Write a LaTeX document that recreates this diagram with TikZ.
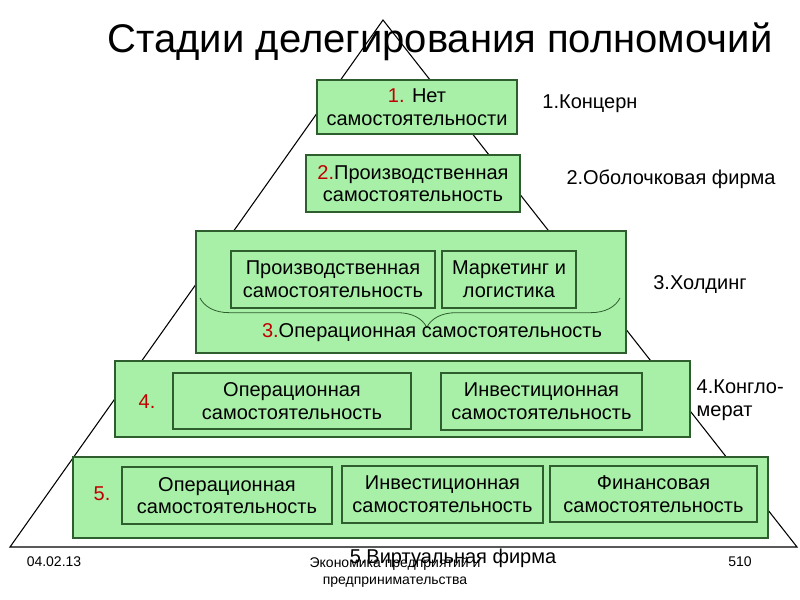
\documentclass[tikz,border=0pt]{standalone}
\usepackage{fontspec}
\setmainfont{Liberation Sans}
\usetikzlibrary{decorations.pathreplacing}
\definecolor{gfill}{HTML}{A8F0A8}
\definecolor{gline}{HTML}{2E5E2E}
\definecolor{rd}{HTML}{C00000}
\tikzset{
 big/.style={draw=gline,fill=gfill,line width=0.8pt},
 inner/.style={draw=gline,line width=0.8pt,align=center,font=\fontsize{15}{17}\selectfont,inner sep=0pt},
 lbl/.style={font=\fontsize{15}{17}\selectfont,align=left},
}
\begin{document}
\begin{tikzpicture}[x=0.75pt,y=-0.75pt]
\useasboundingbox (0,0) rectangle (800,600);
\fill[white] (0,0) rectangle (800,600);
\coordinate (apex) at (383,20);
\coordinate (bl) at (10,547);
\coordinate (br) at (797,547);
\draw[line width=0.8pt] (bl) -- (apex) -- (br) -- cycle;
\node[font=\fontsize{30}{34}\selectfont] (title) at (440,42) {Стадии делегирования полномочий};
% box 1
\node[big,minimum width=150pt,minimum height=40.5pt,inner sep=0pt,align=center,font=\fontsize{15}{17}\selectfont] (b1) at (417,107) {{\color{rd}1.} Нет\\самостоятельности};
\node[big,minimum width=160.5pt,minimum height=42.75pt,inner sep=0pt,align=center,font=\fontsize{15}{17}\selectfont] (b2) at (413,183.5) {{\color{rd}2.}Производственная\\самостоятельность};
% box 3
\node[big,minimum width=322.5pt,minimum height=91.5pt] (b3) at (411,292) {};
\node[inner,minimum width=153pt,minimum height=42.75pt] (b3a) at (333,279.5) {Производственная\\самостоятельность};
\node[inner,minimum width=100.5pt,minimum height=42.75pt] (b3b) at (509,279.5) {Маркетинг и\\логистика};
\coordinate (brL) at (200,298);
\coordinate (brR) at (620,298);
\draw[gline,line width=0.6pt,decorate,decoration={brace,mirror,amplitude=22pt,aspect=0.54}] (brL) -- (brR);
\node[lbl] (b3l) at (432,333) {{\color{rd}3.}Операционная самостоятельность};
% box 4
\node[big,minimum width=431.25pt,minimum height=57pt] (b4) at (402.5,399) {};
\node[lbl,text=rd] (n4) at (147,402) {4.};
\node[inner,minimum width=178.5pt,minimum height=42pt] (b4a) at (292,401) {Операционная\\самостоятельность};
\node[inner,minimum width=150.75pt,minimum height=42.75pt] (b4b) at (541.5,401.5) {Инвестиционная\\самостоятельность};
% box 5
\node[big,minimum width=521.25pt,minimum height=60.75pt] (b5) at (420.5,497.5) {};
\node[lbl,text=rd] (n5) at (102,494) {5.};
\node[inner,minimum width=157.5pt,minimum height=42.75pt] (b5a) at (227,495.5) {Операционная\\самостоятельность};
\node[inner,minimum width=150.75pt,minimum height=42.75pt] (b5b) at (442.5,494.5) {Инвестиционная\\самостоятельность};
\node[inner,minimum width=155.25pt,minimum height=42pt] (b5c) at (653.5,494) {Финансовая\\самостоятельность};
% right labels
\node[lbl] (r1) at (590,104) {1.Концерн};
\node[lbl] (r2) at (671,179) {2.Оболочковая фирма};
\node[lbl] (r3) at (700,285) {3.Холдинг};
\node[lbl,anchor=west,font=\fontsize{15}{17}\selectfont] (r4) at (692,400) {4.Конгло-\\мерат};
% footer
\node[font=\fontsize{10.5}{12.5}\selectfont] (date) at (54,562) {04.02.13};
\node[font=\fontsize{10.5}{12.5}\selectfont] (pg) at (740,562) {510};
\node[font=\fontsize{10.5}{12.5}\selectfont,align=center] (ft) at (395,572) {Экономика предприятий и\\предпринимательства};
\node[lbl] (r5) at (453,558) {5.Виртуальная фирма};
\end{tikzpicture}
\end{document}
